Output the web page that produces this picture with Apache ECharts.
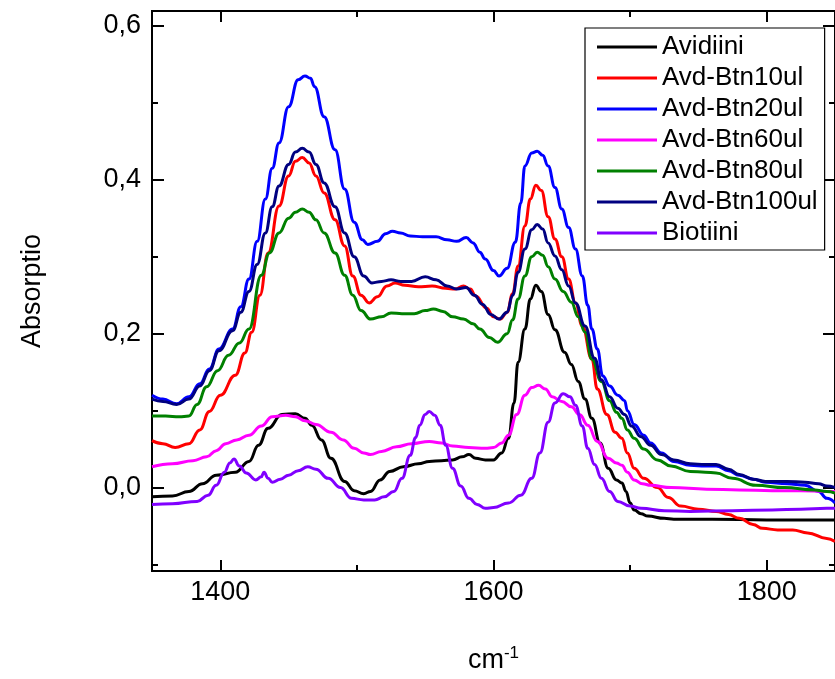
<!DOCTYPE html>
<html>
<head>
<meta charset="utf-8">
<script src="https://cdn.jsdelivr.net/npm/echarts@6/dist/echarts.min.js"></script>
<style>
  html, body { margin: 0; padding: 0; background: #fff; }
  #chart { width: 835px; height: 679px; }
</style>
</head>
<body>
<div id="chart"></div>
<script>
// FTIR spectra, amide region: [wavenumber cm-1, absorbance]
const avidiini = [[1350,-0.012],[1365,-0.011],[1377,-0.005],[1387,0.005],[1397,0.016],[1411,0.02],[1421,0.034],[1428,0.055],[1435,0.077],[1445,0.095],[1455,0.096],[1462,0.09],[1467,0.081],[1474,0.062],[1481,0.038],[1491,0.008],[1498,-0.004],[1505,-0.008],[1510,-0.005],[1517,0.01],[1524,0.021],[1534,0.027],[1545,0.031],[1553,0.034],[1562,0.035],[1570,0.036],[1577,0.04],[1582,0.043],[1587,0.038],[1594,0.036],[1600,0.036],[1606,0.045],[1611,0.064],[1615,0.11],[1618,0.163],[1623,0.206],[1627,0.245],[1631,0.263],[1635,0.255],[1640,0.225],[1645,0.205],[1652,0.176],[1657,0.16],[1662,0.138],[1667,0.115],[1672,0.09],[1678,0.058],[1684,0.025],[1690,0.01],[1694,0.006],[1697,-0.005],[1700,-0.02],[1703,-0.029],[1708,-0.034],[1713,-0.037],[1725,-0.04],[1732,-0.041],[1760,-0.041],[1800,-0.042],[1850,-0.042]];

const avdBtn10 = [[1350,0.061],[1358,0.057],[1367,0.052],[1377,0.057],[1385,0.075],[1392,0.099],[1400,0.12],[1411,0.146],[1418,0.175],[1423,0.202],[1429,0.25],[1435,0.305],[1443,0.366],[1450,0.405],[1455,0.424],[1460,0.429],[1465,0.422],[1470,0.405],[1476,0.383],[1484,0.348],[1491,0.314],[1497,0.275],[1503,0.25],[1509,0.24],[1515,0.248],[1522,0.262],[1528,0.266],[1535,0.263],[1545,0.261],[1555,0.262],[1565,0.259],[1572,0.258],[1578,0.262],[1583,0.258],[1587,0.249],[1595,0.233],[1600,0.222],[1605,0.219],[1610,0.228],[1614,0.252],[1618,0.288],[1623,0.34],[1627,0.375],[1631,0.393],[1635,0.386],[1640,0.352],[1645,0.323],[1650,0.3],[1655,0.271],[1660,0.24],[1665,0.21],[1672,0.167],[1676,0.128],[1683,0.095],[1689,0.072],[1694,0.064],[1698,0.045],[1703,0.025],[1710,0.012],[1720,0.0],[1728,-0.013],[1737,-0.024],[1750,-0.028],[1763,-0.031],[1772,-0.035],[1780,-0.04],[1790,-0.048],[1797,-0.053],[1808,-0.055],[1819,-0.055],[1830,-0.059],[1844,-0.066],[1850,-0.07]];

const avdBtn20 = [[1350,0.12],[1358,0.115],[1368,0.109],[1377,0.118],[1385,0.135],[1392,0.154],[1399,0.18],[1409,0.206],[1415,0.235],[1421,0.271],[1427,0.32],[1433,0.375],[1438,0.415],[1443,0.448],[1450,0.495],[1457,0.53],[1462,0.535],[1466,0.532],[1469,0.521],[1476,0.482],[1484,0.439],[1491,0.388],[1498,0.345],[1504,0.322],[1508,0.316],[1515,0.32],[1521,0.33],[1526,0.333],[1532,0.331],[1539,0.327],[1548,0.326],[1558,0.326],[1566,0.322],[1573,0.32],[1580,0.325],[1585,0.318],[1590,0.306],[1594,0.297],[1600,0.282],[1604,0.275],[1610,0.285],[1616,0.319],[1620,0.37],[1623,0.418],[1628,0.435],[1632,0.437],[1636,0.432],[1640,0.418],[1645,0.39],[1650,0.362],[1655,0.338],[1660,0.31],[1665,0.275],[1669,0.237],[1672,0.206],[1676,0.18],[1680,0.145],[1685,0.132],[1691,0.12],[1696,0.113],[1698,0.1],[1703,0.082],[1710,0.068],[1715,0.058],[1723,0.045],[1732,0.034],[1744,0.029],[1755,0.028],[1763,0.028],[1772,0.022],[1780,0.016],[1790,0.011],[1799,0.007],[1815,0.005],[1828,0.003],[1838,-0.005],[1844,-0.014],[1850,-0.02]];

const avdBtn60 = [[1350,0.027],[1365,0.031],[1380,0.035],[1390,0.04],[1397,0.048],[1404,0.057],[1412,0.062],[1421,0.068],[1430,0.08],[1438,0.092],[1448,0.094],[1455,0.092],[1462,0.087],[1470,0.082],[1481,0.072],[1490,0.062],[1498,0.051],[1505,0.045],[1510,0.043],[1518,0.047],[1529,0.053],[1540,0.057],[1553,0.06],[1562,0.058],[1570,0.054],[1582,0.052],[1594,0.051],[1600,0.052],[1606,0.058],[1611,0.068],[1617,0.095],[1623,0.12],[1628,0.13],[1633,0.133],[1638,0.128],[1643,0.118],[1650,0.112],[1657,0.105],[1663,0.095],[1669,0.081],[1676,0.06],[1684,0.038],[1690,0.032],[1694,0.029],[1698,0.02],[1703,0.01],[1709,0.005],[1715,0.003],[1730,0.0],[1756,-0.002],[1780,-0.003],[1804,-0.004],[1825,-0.004],[1844,-0.005],[1850,-0.005]];

const avdBtn80 = [[1350,0.093],[1360,0.093],[1370,0.092],[1377,0.093],[1383,0.108],[1390,0.131],[1398,0.152],[1406,0.172],[1414,0.188],[1421,0.206],[1430,0.276],[1436,0.305],[1443,0.331],[1450,0.35],[1455,0.358],[1460,0.362],[1465,0.358],[1470,0.348],[1476,0.331],[1484,0.305],[1491,0.276],[1497,0.25],[1503,0.23],[1510,0.219],[1518,0.222],[1525,0.227],[1533,0.226],[1542,0.226],[1550,0.23],[1556,0.232],[1563,0.229],[1570,0.222],[1578,0.219],[1585,0.213],[1590,0.206],[1597,0.195],[1603,0.189],[1610,0.2],[1614,0.218],[1618,0.245],[1623,0.275],[1628,0.3],[1632,0.306],[1636,0.302],[1640,0.287],[1645,0.271],[1651,0.255],[1657,0.241],[1662,0.222],[1667,0.202],[1672,0.167],[1679,0.138],[1685,0.113],[1690,0.098],[1694,0.09],[1698,0.075],[1703,0.064],[1710,0.05],[1720,0.036],[1730,0.028],[1744,0.021],[1755,0.02],[1763,0.019],[1775,0.012],[1792,0.003],[1813,0.0],[1835,-0.003],[1844,-0.005],[1850,-0.007]];

const avdBtn100 = [[1350,0.115],[1358,0.112],[1368,0.108],[1377,0.115],[1385,0.132],[1392,0.152],[1399,0.178],[1409,0.204],[1415,0.228],[1421,0.255],[1427,0.29],[1433,0.331],[1438,0.365],[1443,0.392],[1450,0.42],[1455,0.436],[1460,0.441],[1465,0.436],[1470,0.42],[1476,0.396],[1484,0.365],[1491,0.331],[1498,0.3],[1505,0.275],[1511,0.266],[1518,0.268],[1525,0.27],[1532,0.268],[1540,0.268],[1550,0.274],[1558,0.27],[1566,0.262],[1573,0.258],[1580,0.26],[1586,0.25],[1592,0.238],[1598,0.225],[1604,0.219],[1610,0.228],[1614,0.25],[1618,0.28],[1623,0.31],[1628,0.335],[1632,0.342],[1636,0.336],[1640,0.318],[1645,0.301],[1650,0.283],[1655,0.262],[1660,0.24],[1667,0.21],[1674,0.168],[1679,0.14],[1685,0.118],[1691,0.103],[1696,0.095],[1701,0.08],[1708,0.066],[1715,0.055],[1723,0.043],[1732,0.036],[1744,0.031],[1755,0.03],[1763,0.03],[1772,0.024],[1780,0.017],[1790,0.011],[1799,0.008],[1815,0.008],[1828,0.007],[1838,0.005],[1844,0.002],[1850,0.0]];

const biotiini = [[1350,-0.022],[1365,-0.021],[1383,-0.018],[1391,-0.01],[1397,0.003],[1403,0.02],[1407,0.032],[1410,0.037],[1414,0.028],[1419,0.019],[1426,0.01],[1430,0.014],[1432,0.02],[1435,0.012],[1438,0.007],[1444,0.011],[1450,0.016],[1457,0.022],[1464,0.027],[1470,0.024],[1479,0.012],[1488,0.0],[1496,-0.014],[1505,-0.016],[1513,-0.016],[1520,-0.012],[1527,-0.005],[1533,0.012],[1539,0.042],[1543,0.065],[1546,0.081],[1550,0.095],[1553,0.099],[1557,0.094],[1561,0.081],[1565,0.055],[1570,0.025],[1576,0.002],[1582,-0.014],[1588,-0.022],[1594,-0.027],[1600,-0.026],[1611,-0.02],[1620,-0.01],[1628,0.012],[1634,0.045],[1640,0.085],[1645,0.11],[1651,0.122],[1656,0.118],[1660,0.107],[1665,0.08],[1669,0.051],[1674,0.03],[1679,0.012],[1685,-0.005],[1691,-0.018],[1700,-0.024],[1708,-0.027],[1725,-0.03],[1744,-0.031],[1775,-0.03],[1804,-0.029],[1825,-0.028],[1844,-0.027],[1850,-0.027]];

const seriesNames = ['Avidiini', 'Avd-Btn10ul', 'Avd-Btn20ul', 'Avd-Btn60ul', 'Avd-Btn80ul', 'Avd-Btn100ul', 'Biotiini'];
const seriesData = [avidiini, avdBtn10, avdBtn20, avdBtn60, avdBtn80, avdBtn100, biotiini];
const seriesColors = ['#000000', '#ff0000', '#0000ff', '#ff00ff', '#008000', '#000080', '#8000ff'];

// axis extents and tick positions
const xMin = 1350, xMax = 1850;
const yMin = -0.1084, yMax = 0.6194;
const xMajorTicks = [1400, 1600, 1800];
const xMinorTicks = [1500, 1700];
const yMajorTicks = [0.0, 0.2, 0.4, 0.6];
const yMinorTicks = [-0.1, 0.1, 0.3, 0.5];

const FONT = '"Liberation Sans", Arial, sans-serif';

function xAxisDef(position, ticks, len, labels) {
  return {
    type: 'value', position, min: xMin, max: xMax,
    axisLine: { show: false, onZero: false },
    splitLine: { show: false },
    axisTick: { show: true, inside: true, length: len, customValues: ticks,
                lineStyle: { color: '#000', width: 2 } },
    axisLabel: labels ? {
      show: true, customValues: ticks, margin: 8,
      color: '#000', fontSize: 27, fontFamily: FONT,
      formatter: v => String(v)
    } : { show: false }
  };
}
function yAxisDef(position, ticks, len, labels) {
  return {
    type: 'value', position, min: yMin, max: yMax,
    axisLine: { show: false, onZero: false },
    splitLine: { show: false },
    axisTick: { show: true, inside: true, length: len, customValues: ticks,
                lineStyle: { color: '#000', width: 2 } },
    axisLabel: labels ? {
      show: true, customValues: ticks, margin: 11,
      color: '#000', fontSize: 27, fontFamily: FONT,
      formatter: v => v.toFixed(1).replace('.', ',')
    } : { show: false }
  };
}

const xAxes = [
  xAxisDef('bottom', xMajorTicks, 11, true),
  xAxisDef('bottom', xMinorTicks, 6, false),
  xAxisDef('top', xMajorTicks, 11, false),
  xAxisDef('top', xMinorTicks, 6, false)
];
Object.assign(xAxes[0], {
  name: 'cm{sup|-1}', nameLocation: 'middle', nameGap: 74,
  nameTextStyle: {
    color: '#000', fontSize: 27, fontFamily: FONT,
    rich: { sup: { fontSize: 17, fontFamily: FONT, color: '#000', verticalAlign: 'top', padding: [0, 0, 14, 0] } }
  }
});

const yAxes = [
  yAxisDef('left', yMajorTicks, 12, true),
  yAxisDef('left', yMinorTicks, 6, false),
  yAxisDef('right', yMajorTicks, 12, false),
  yAxisDef('right', yMinorTicks, 6, false)
];
Object.assign(yAxes[0], {
  name: 'Absorptio', nameLocation: 'middle', nameGap: 106, nameRotate: 90,
  nameTextStyle: { color: '#000', fontSize: 27, fontFamily: FONT }
});

const chart = echarts.init(document.getElementById('chart'), null, { renderer: 'canvas' });
chart.setOption({
  animation: false,
  backgroundColor: '#ffffff',
  grid: {
    left: 152, top: 11, width: 691, height: 562,
    show: true, borderColor: '#000', borderWidth: 2, backgroundColor: 'transparent'
  },
  legend: {
    data: seriesNames,
    orient: 'vertical',
    left: 585, top: 28,
    padding: [6, 7, 4, 12],
    icon: 'rect',
    itemWidth: 60, itemHeight: 3, itemGap: 5,
    borderColor: '#000', borderWidth: 1.2,
    backgroundColor: '#fff',
    selectedMode: false,
    textStyle: { color: '#000', fontSize: 26, fontFamily: FONT, lineHeight: 26 }
  },
  xAxis: xAxes,
  yAxis: yAxes,
  series: seriesNames.map((name, i) => ({
    name,
    type: 'line',
    xAxisIndex: 0, yAxisIndex: 0,
    data: seriesData[i],
    symbol: 'none',
    smooth: 0.45,
    smoothMonotone: 'x',
    color: seriesColors[i],
    lineStyle: { color: seriesColors[i], width: 3 }
  }))
});
</script>
</body>
</html>
